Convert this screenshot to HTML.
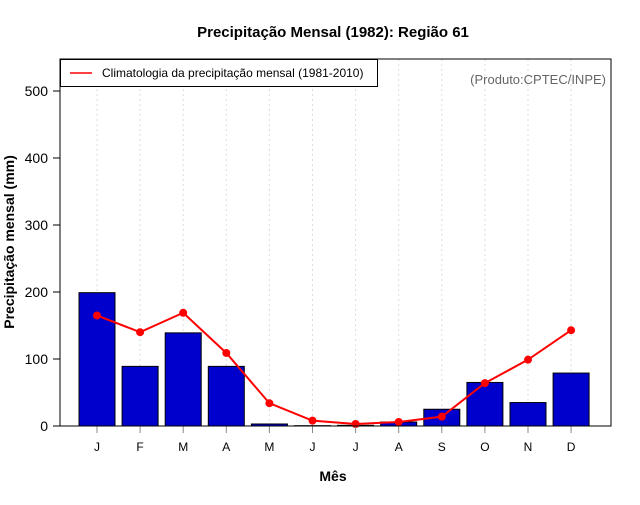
<!DOCTYPE html>
<html><head><meta charset="utf-8"><style>
body{margin:0;background:#fff;font-family:"Liberation Sans",sans-serif}
</style></head><body>
<svg id="c" width="640" height="500" xmlns="http://www.w3.org/2000/svg">
<text x="333" y="37" text-anchor="middle" font-size="15" font-weight="bold" font-family="Liberation Sans">Precipitação Mensal (1982): Região 61</text>
<text x="333" y="481" text-anchor="middle" font-size="14" font-weight="bold" font-family="Liberation Sans">Mês</text>
<text transform="translate(14,242) rotate(-90)" text-anchor="middle" font-size="14" font-weight="bold" font-family="Liberation Sans">Precipitação mensal (mm)</text>
<g id="grid"></g><g id="bars"></g><g id="line"></g><g id="axes"></g>
<rect x="60" y="59" width="551" height="367" fill="none" stroke="#000" stroke-width="1"/>
<text x="606" y="84" text-anchor="end" font-size="13" fill="#666" font-family="Liberation Sans">(Produto:CPTEC/INPE)</text>
<g>
<rect x="60.5" y="59.5" width="317" height="27" fill="#fff" stroke="#000"/>
<line x1="70" y1="73" x2="92" y2="73" stroke="#f00" stroke-width="1.5"/>
<text x="102" y="77" font-size="12" font-family="Liberation Sans">Climatologia da precipitação mensal (1981-2010)</text>
</g>
</svg>
<script>
const months=["J","F","M","A","M","J","J","A","S","O","N","D"];
const precip=[199,89,139,89,3,0.5,1,6,25,65,35,79];
const clim=[165,140,169,109,34,8,3,6,14,64,99,143];
const yTicks=[0,100,200,300,400,500];
const NS="http://www.w3.org/2000/svg";
const xs=i=>97+43.1*i, ys=v=>426-v*0.67;
function mk(t,a,p){const e=document.createElementNS(NS,t);for(const k in a)e.setAttribute(k,a[k]);p.appendChild(e);return e;}
const g=document.getElementById('grid'),b=document.getElementById('bars'),l=document.getElementById('line'),ax=document.getElementById('axes');
months.forEach((m,i)=>{
 const gl=mk('line',{x1:xs(i),x2:xs(i),y1:59,y2:426,stroke:'#ddd','stroke-dasharray':'2,3'},g);
 
 
 const r=mk('rect',{x:xs(i)-18,y:ys(precip[i]),width:36,height:precip[i]*0.67,fill:'#0000cd',stroke:'#000','stroke-width':1},b);
 
 
 const tk=mk('line',{x1:xs(i),x2:xs(i),y1:426,y2:433,stroke:'#888'},ax);
 
 
 const tx=mk('text',{x:xs(i),y:451,'text-anchor':'middle','font-size':12,'font-family':'Liberation Sans'},ax);
 tx.textContent=m;
 
 
});
const pl=mk('polyline',{points:clim.map((v,i)=>xs(i)+','+ys(v)).join(' '),fill:'none',stroke:'#f00','stroke-width':2},l);


clim.forEach((v,i)=>{
 const c=mk('circle',{cx:xs(i),cy:ys(v),r:4,fill:'#f00'},l);
 
 
});
yTicks.forEach(v=>{
 const tk=mk('line',{x1:53,x2:60,y1:ys(v),y2:ys(v),stroke:'#000'},ax);
 
 
 const tx=mk('text',{x:48,y:ys(v)+5,'text-anchor':'end','font-size':14,'font-family':'Liberation Sans'},ax);
 tx.textContent=v;
 
 
});
</script>
</body></html>
